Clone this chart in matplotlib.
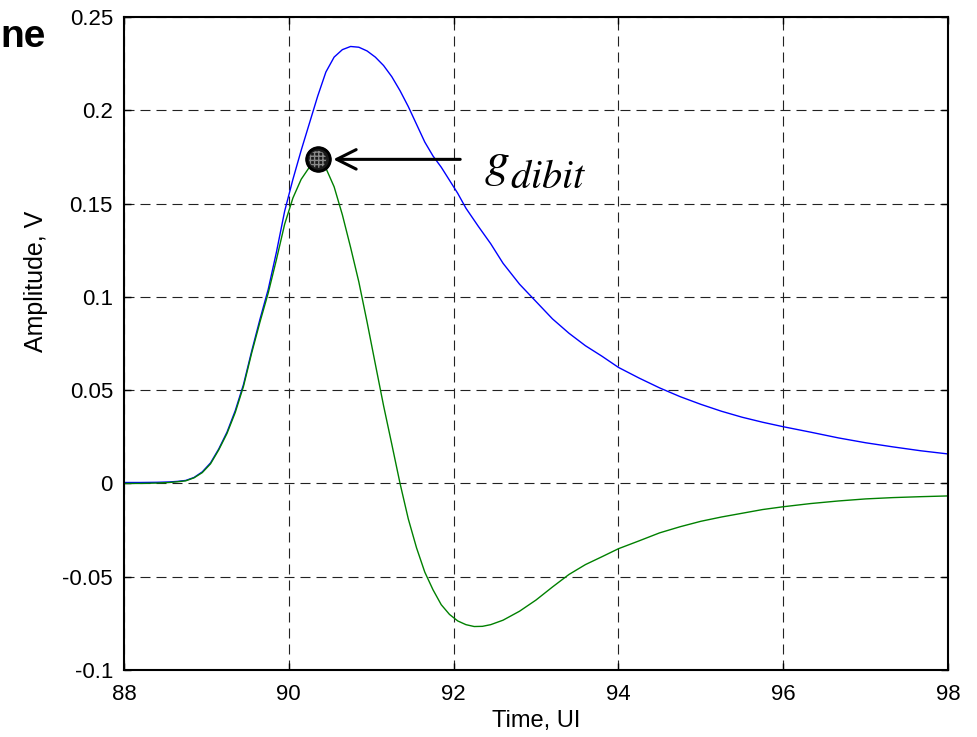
import numpy as np
import matplotlib
matplotlib.use("Agg")
import matplotlib.pyplot as plt

# pulse response (blue) and dibit response (green), time in UI, amplitude in V
t_pulse = [88.0, 88.2, 88.4, 88.55, 88.65, 88.75, 88.85, 88.95, 89.05, 89.15,
           89.25, 89.35, 89.45, 89.55, 89.65, 89.75, 89.85, 89.95, 90.05, 90.15,
           90.25, 90.35, 90.45, 90.55, 90.65, 90.75, 90.85, 90.95, 91.05, 91.15,
           91.25, 91.35, 91.45, 91.55, 91.65, 91.75, 91.85, 91.95, 92.05, 92.15,
           92.3, 92.45, 92.6, 92.8, 93.0, 93.2, 93.4, 93.6, 93.8, 94.0,
           94.25, 94.5, 94.75, 95.0, 95.25, 95.5, 95.75, 96.0, 96.33, 96.67,
           97.0, 97.33, 97.67, 98.0]
v_pulse = [0.0005, 0.0005, 0.0006, 0.0008, 0.0011, 0.0016, 0.0032, 0.0062, 0.0110, 0.0185,
           0.0275, 0.0390, 0.0530, 0.0710, 0.0880, 0.1040, 0.1240, 0.1460, 0.1630, 0.1785,
           0.1930, 0.2075, 0.2205, 0.2285, 0.2325, 0.2342, 0.2338, 0.2318, 0.2285, 0.2240,
           0.2180, 0.2105, 0.2020, 0.1925, 0.1830, 0.1755, 0.1695, 0.1625, 0.1555, 0.1475,
           0.1378, 0.1285, 0.1180, 0.1068, 0.0975, 0.0882, 0.0805, 0.0738, 0.0682, 0.0622,
           0.0565, 0.0512, 0.0465, 0.0424, 0.0387, 0.0355, 0.0328, 0.0304, 0.0275, 0.0244,
           0.0218, 0.0196, 0.0175, 0.0158]

t_dibit = [88.0, 88.2, 88.4, 88.55, 88.65, 88.75, 88.85, 88.95, 89.05, 89.15,
           89.25, 89.35, 89.45, 89.55, 89.65, 89.75, 89.85, 89.95, 90.05, 90.15,
           90.25, 90.35, 90.45, 90.55, 90.65, 90.75, 90.85, 90.95, 91.05, 91.15,
           91.25, 91.35, 91.45, 91.55, 91.65, 91.75, 91.85, 91.95, 92.05, 92.15,
           92.25, 92.35, 92.45, 92.6, 92.8, 93.0, 93.2, 93.4, 93.6, 93.8,
           94.0, 94.25, 94.5, 94.75, 95.0, 95.25, 95.5, 95.75, 96.0, 96.33,
           96.67, 97.0, 97.33, 97.67, 98.0]
v_dibit = [0.0, 0.0, 0.0002, 0.0005, 0.0009, 0.0014, 0.0030, 0.0058, 0.0105, 0.0180,
           0.0268, 0.0380, 0.0520, 0.0700, 0.0865, 0.1020, 0.1200, 0.1390, 0.1530, 0.1630,
           0.1695, 0.1720, 0.1690, 0.1590, 0.1440, 0.1265, 0.1080, 0.0865, 0.0640, 0.0417,
           0.0210, 0.0000, -0.0190, -0.0345, -0.0475, -0.0570, -0.0650, -0.0702, -0.0737, -0.0757,
           -0.0767, -0.0766, -0.0757, -0.0733, -0.0685, -0.0625, -0.0555, -0.0488, -0.0435, -0.0393,
           -0.0350, -0.0308, -0.0265, -0.0232, -0.0203, -0.0180, -0.0160, -0.0140, -0.0125, -0.0108,
           -0.0094, -0.0083, -0.0076, -0.0071, -0.0067]

g_t, g_v = 90.35, 0.1737

x_ticks = [88, 90, 92, 94, 96, 98]
y_ticks = [-0.1, -0.05, 0, 0.05, 0.1, 0.15, 0.2, 0.25]
y_labels = ['-0.1', '-0.05', '0', '0.05', '0.1', '0.15', '0.2', '0.25']

plt.rcParams['font.family'] = ['Liberation Sans', 'DejaVu Sans']
plt.rcParams['mathtext.fontset'] = 'stix'

fig = plt.figure(figsize=(9.78, 7.37), dpi=100)
ax = fig.add_axes([124/978, 1-670/737, (948-124)/978, (670-17)/737])

ax.plot(t_pulse, v_pulse, color='#0000ff', lw=1.0)
ax.plot(t_dibit, v_dibit, color='#008000', lw=1.0)

# dibit peak marker
ax.plot(g_t, g_v, 'o', ms=17, mfc='#1a1a1a', mec='black', mew=1.5, zorder=5)
ax.scatter([g_t], [g_v], s=150, facecolors='none', edgecolors='#8a8a8a',
           hatch='++++', linewidths=0, zorder=6)
ax.plot(g_t, g_v, 'o', ms=17, mfc='none', mec='black', mew=2, zorder=7)

ax.annotate('', xy=(90.54, g_v), xytext=(92.08, g_v),
            arrowprops=dict(arrowstyle='->,head_length=0.7,head_width=0.35',
                            mutation_scale=20, lw=2.2, color='black',
                            shrinkA=0, shrinkB=0))
ax.text(92.37, 0.1648, r'$g$', fontsize=36, va='baseline', ha='left')
ax.text(92.68, 0.1583, r'$dibit$', fontsize=29, va='baseline', ha='left')

ax.set_xlim(88, 98)
ax.set_ylim(-0.1, 0.25)
ax.set_xticks(x_ticks)
ax.set_xticklabels([str(x) for x in x_ticks])
ax.set_yticks(y_ticks)
ax.set_yticklabels(y_labels)
ax.tick_params(direction='in', length=5, width=1, labelsize=16, pad=8,
               top=True, right=True)
ax.tick_params(axis='x', pad=10)

ax.grid(True, color='#222222', lw=0.8, linestyle=(0, (9, 5.4)))
for sp in ax.spines.values():
    sp.set_linewidth(1.5)

ax.set_xlabel('Time, UI', fontsize=17, labelpad=4)
ax.set_ylabel('Amplitude, V', fontsize=18)
ax.yaxis.set_label_coords(-0.092, (670 - 281) / 653)

fig.text(0.5/978, 1-47/737, 'ne', fontsize=28, fontweight='bold',
         ha='left', va='baseline')

fig.savefig('out.png', dpi=100)
